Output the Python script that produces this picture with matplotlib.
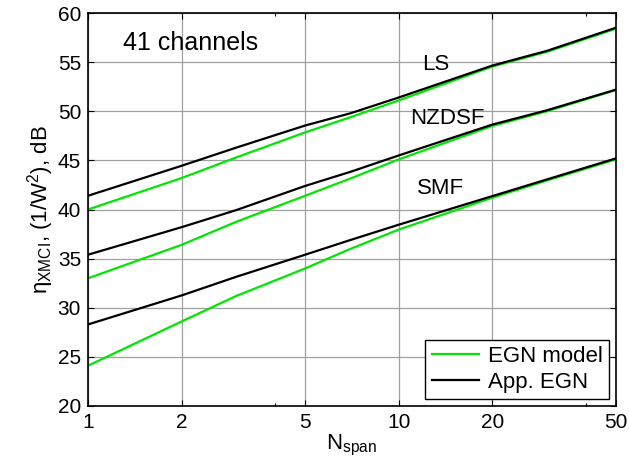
import numpy as np
import matplotlib
matplotlib.use("Agg")
import matplotlib.pyplot as plt
from matplotlib.ticker import FixedLocator, NullFormatter

plt.rcParams["font.family"] = ["Liberation Sans", "DejaVu Sans"]
plt.rcParams["mathtext.fontset"] = "custom"
plt.rcParams["mathtext.rm"] = "Liberation Sans"
plt.rcParams["mathtext.it"] = "Liberation Sans:italic"

# number of spans
n_span = [1, 2, 3, 5, 7, 10, 20, 30, 50]

# XMCI coefficient, dB  (EGN model vs approximate EGN)
ls_egn     = [40.0, 43.2, 45.3, 47.85, 49.4, 51.1, 54.55, 56.05, 58.4]
ls_app     = [41.4, 44.45, 46.3, 48.55, 49.8, 51.4, 54.65, 56.15, 58.5]
nzdsf_egn  = [33.0, 36.4, 38.75, 41.4, 43.16, 45.1, 48.5, 50.0, 52.15]
nzdsf_app  = [35.4, 38.2, 39.94, 42.4, 43.84, 45.5, 48.64, 50.1, 52.2]
smf_egn    = [24.1, 28.6, 31.2, 34.0, 36.0, 37.95, 41.2, 42.95, 45.1]
smf_app    = [28.3, 31.25, 33.15, 35.4, 36.9, 38.45, 41.36, 43.06, 45.2]

fiber_names = ["LS", "NZDSF", "SMF"]
xticks = [1, 2, 5, 10, 20, 50]
yticks = [20, 25, 30, 35, 40, 45, 50, 55, 60]

GREEN = "#00e600"

fig = plt.figure(figsize=(6.29, 4.74), dpi=100)
ax = fig.add_axes([0.140, 0.1435, 0.839, 0.829])

pairs = [(ls_egn, ls_app), (nzdsf_egn, nzdsf_app), (smf_egn, smf_app)]
for k, (egn, app) in enumerate(pairs):
    ax.plot(n_span, egn, color=GREEN, lw=1.6, label="EGN model" if k == 0 else None)
for k, (egn, app) in enumerate(pairs):
    ax.plot(n_span, app, color="black", lw=1.6, label="App. EGN" if k == 0 else None)

ax.set_xscale("log")
ax.set_xlim(1, 50)
ax.set_ylim(20, 60)
ax.set_xticks(xticks)
ax.set_xticklabels([str(t) for t in xticks])
ax.xaxis.set_minor_locator(FixedLocator([4, 40]))
ax.xaxis.set_minor_formatter(NullFormatter())
ax.set_yticks(yticks)
ax.tick_params(which="both", direction="in", top=True, right=True, labelsize=15,
               length=4, width=0.8, pad=5)
ax.tick_params(which="minor", length=2.5)
ax.grid(True, which="major", color="#a0a0a0", lw=0.9)
ax.set_axisbelow(True)
for s in ax.spines.values():
    s.set_linewidth(1.2)

ax.set_xlabel(r"N$_{\rm span}$", fontsize=16, labelpad=1)
ax.set_ylabel(r"η$_{\rm XMCI}$, (1/W$^2$), dB", fontsize=16, labelpad=1)

ax.text(1.30, 56.9, "41 channels", fontsize=18, va="center", ha="left")
ax.text(13.2, 54.8, fiber_names[0], fontsize=16, ha="center", va="center")
ax.text(14.3, 49.3, fiber_names[1], fontsize=16, ha="center", va="center")
ax.text(13.6, 42.15, fiber_names[2], fontsize=16, ha="center", va="center")

leg = ax.legend(loc="lower right", fontsize=16, fancybox=False, framealpha=1,
                edgecolor="black", handlelength=2.1, handletextpad=0.4,
                borderpad=0.3, labelspacing=0.2, borderaxespad=0.3)
leg.get_frame().set_linewidth(1.0)

fig.savefig("out.png", dpi=100, facecolor="white")
